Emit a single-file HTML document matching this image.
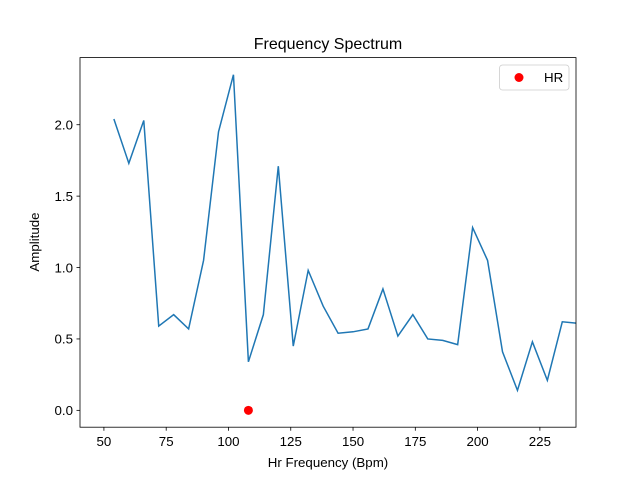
<!DOCTYPE html>
<html><head><meta charset="utf-8"><style>
body{margin:0;background:#fff;font-family:"Liberation Sans","DejaVu Sans",sans-serif}
</style></head><body>
<svg id="chart" width="640" height="480" xmlns="http://www.w3.org/2000/svg">
<rect width="640" height="480" fill="#fff"/>
<defs><clipPath id="clip"><rect x="80" y="57.6" width="496" height="369.6"/></clipPath></defs>
<g id="ticks"></g>
<polyline id="line" clip-path="url(#clip)" fill="none" stroke="#1f77b4" stroke-width="1.5"/>
<g id="pts"></g>
<rect x="80" y="57.6" width="496" height="369.6" fill="none" stroke="#000" stroke-width="0.8"/>
<text x="328" y="49" text-anchor="middle" font-size="16">Frequency Spectrum</text>
<text x="328" y="467" text-anchor="middle" font-size="13.3">Hr Frequency (Bpm)</text>
<text transform="translate(39,242) rotate(-90)" text-anchor="middle" font-size="13.3">Amplitude</text>
<g>
<rect x="499.5" y="65" width="69.5" height="25" rx="3" fill="#fff" stroke="#ccc" stroke-width="0.8"/>
<circle cx="519" cy="77.5" r="4.5" fill="red"/>
<text x="544" y="82" font-size="13.3">HR</text>
</g>
</svg>
<script>
const freqs=[54,60,66,72,78,84,90,96,102,108,114,120,126,132,138,144,150,156,162,168,174,180,186,192,198,204,210,216,222,228,234,240];
const amps=[2.04,1.73,2.03,0.59,0.67,0.57,1.05,1.95,2.35,0.34,0.67,1.71,0.45,0.98,0.73,0.54,0.55,0.57,0.85,0.52,0.67,0.50,0.49,0.46,1.28,1.05,0.41,0.14,0.48,0.21,0.62,0.61];
const hrX=[108];
const hrY=[0];
const xTicks=[50,75,100,125,150,175,200,225];
const yTicks=[0.0,0.5,1.0,1.5,2.0];
const NS="http://www.w3.org/2000/svg";
const X0=40.4,X1=239.5,Y0=-0.118,Y1=2.47;
const sx=v=>80+(v-X0)/(X1-X0)*496;
const sy=v=>427.2-(v-Y0)/(Y1-Y0)*369.6;
const line=document.getElementById('line');
line.setAttribute('points',freqs.map((f,i)=>sx(f)+','+sy(amps[i])).join(' '));
const pts=document.getElementById('pts');
hrX.forEach((x,i)=>{const c=document.createElementNS(NS,'circle');
c.setAttribute('cx',sx(x));c.setAttribute('cy',sy(hrY[i]));c.setAttribute('r',4.5);c.setAttribute('fill','red');


pts.appendChild(c);});
const tg=document.getElementById('ticks');
function mk(tag,attrs,txt){const e=document.createElementNS(NS,tag);for(const k in attrs)e.setAttribute(k,attrs[k]);if(txt!==undefined)e.textContent=txt;tg.appendChild(e);return e;}
xTicks.forEach(t=>{const x=sx(t);
const l=mk('line',{x1:x,x2:x,y1:427.2,y2:430.7,stroke:'#000','stroke-width':0.8});


const s=mk('text',{x:x,y:446,'text-anchor':'middle','font-size':13.3},String(t));

});
yTicks.forEach(t=>{const y=sy(t);
const l=mk('line',{x1:76.5,x2:80,y1:y,y2:y,stroke:'#000','stroke-width':0.8});


const s=mk('text',{x:73,y:y+4.8,'text-anchor':'end','font-size':13.3},t.toFixed(1));

});
</script>
</body></html>
